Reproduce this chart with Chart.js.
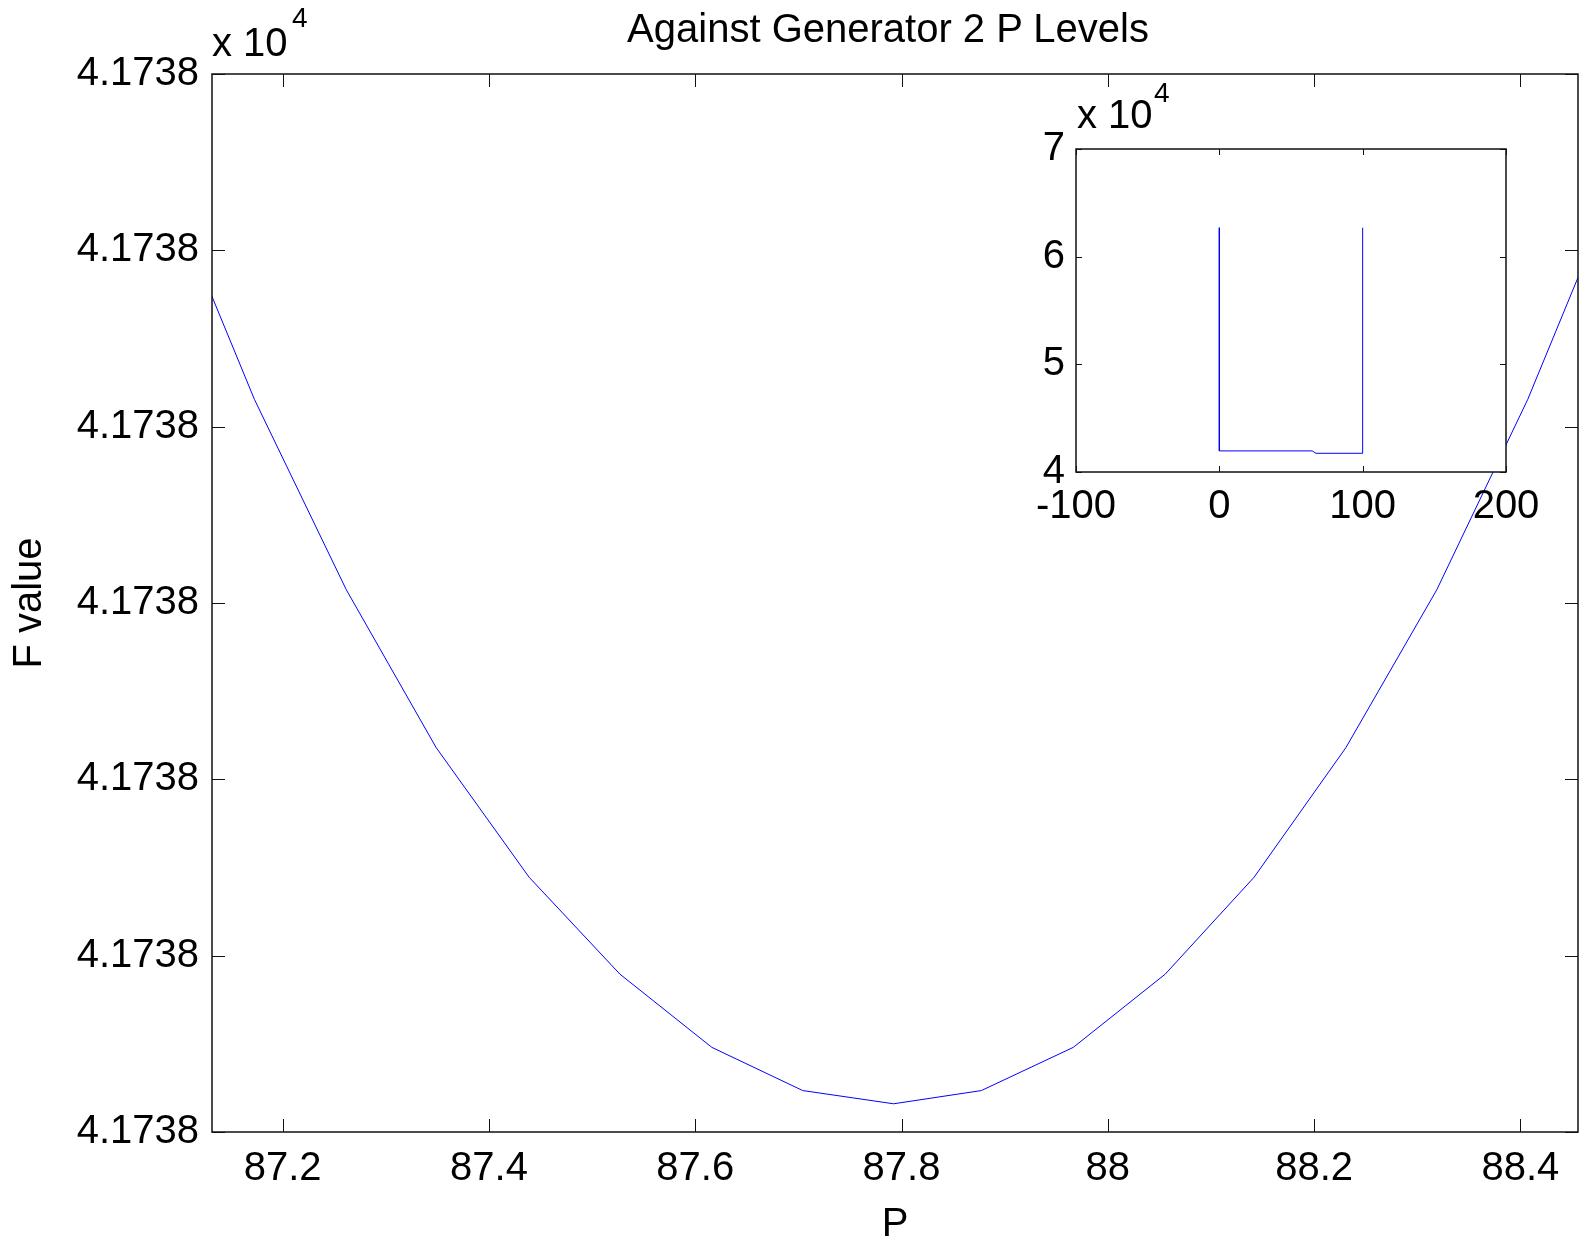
<!DOCTYPE html>
<html>
<head>
<meta charset="utf-8">
<script src="https://cdn.jsdelivr.net/npm/chart.js@4.4.1/dist/chart.umd.min.js"></script>
<style>
  html, body { margin: 0; padding: 0; background: #fff; }
  #wrap { position: relative; width: 1583px; height: 1237px; overflow: hidden; }
  canvas { position: absolute; }
  .txt { position: absolute; font-family: 'Liberation Sans', Arial, sans-serif; color: #000; white-space: nowrap; line-height: 1; }
</style>
</head>
<body>
<div id="wrap">
  <canvas id="main" width="1583" height="1237" style="left:0;top:0"></canvas>
  <canvas id="inset" width="583" height="480" style="left:1000px;top:60px"></canvas>
  <div class="txt" style="left:888px;top:8px;font-size:40px;transform:translateX(-50%)">Against Generator 2 P Levels</div>
  <div class="txt" style="left:212px;top:22px;font-size:40px">x 10</div>
  <div class="txt" style="left:292px;top:4px;font-size:28px">4</div>
  <div class="txt" style="left:1077px;top:94px;font-size:40px">x 10</div>
  <div class="txt" style="left:1154px;top:79px;font-size:28px">4</div>
</div>
<script>
/* ─── Main plot data: F value against generator 2 P ─── */
const pValues = [87.0845, 87.1726, 87.2617, 87.3488, 87.4389, 87.5270, 87.6161, 87.7042,
                 87.7923, 87.8774, 87.9665, 88.0556, 88.1418, 88.2308, 88.3189, 88.4071, 88.4952];
const fValues = [41738.01081, 41738.00831, 41738.00615, 41738.00436, 41738.00289, 41738.00179,
                 41738.00096, 41738.00047, 41738.00032, 41738.00047, 41738.00096, 41738.00179,
                 41738.00289, 41738.00436, 41738.00615, 41738.00831, 41738.01081];
const xTicks = [87.2, 87.4, 87.6, 87.8, 88.0, 88.2, 88.4];
const xLimits = [87.1315, 88.4558];
const yTicks = [41738.000, 41738.002, 41738.004, 41738.006, 41738.008, 41738.010, 41738.012];

/* ─── Inset data: whole P range ─── */
const insetP = [0, 0, 64.8, 67.4, 100, 100];
const insetF = [62690, 41960, 41960, 41738, 41738, 62690];
const insetXTicks = [-100, 0, 100, 200];
const insetYTicks = [40000, 50000, 60000, 70000];

const FONT = { family: "'Liberation Sans', Arial, sans-serif", size: 40, lineHeight: 1 };

/* Matlab-like box with inward ticks on all four sides */
const boxTicks = {
  id: 'boxTicks',
  beforeDraw(chart, args, opts) {
    if (!opts.fill) return;
    const { ctx, chartArea: a } = chart;
    ctx.save();
    ctx.fillStyle = '#fff';
    ctx.fillRect(a.left, a.top, a.right - a.left, a.bottom - a.top);
    ctx.restore();
  },
  afterDraw(chart, args, opts) {
    const { ctx, chartArea: a, scales: { x, y } } = chart;
    const len = opts.len || 10;
    ctx.save();
    ctx.strokeStyle = '#111';
    ctx.lineWidth = opts.width || 1.5;
    ctx.strokeRect(a.left, a.top, a.right - a.left, a.bottom - a.top);
    ctx.beginPath();
    x.ticks.forEach(t => {
      const px = Math.round(x.getPixelForValue(t.value)) + 0.5;
      ctx.moveTo(px, a.bottom); ctx.lineTo(px, a.bottom - len);
      ctx.moveTo(px, a.top);    ctx.lineTo(px, a.top + len);
    });
    y.ticks.forEach(t => {
      const py = Math.round(y.getPixelForValue(t.value)) + 0.5;
      ctx.moveTo(a.left, py);  ctx.lineTo(a.left + len, py);
      ctx.moveTo(a.right, py); ctx.lineTo(a.right - len, py);
    });
    ctx.lineWidth = 1;
    ctx.stroke();
    ctx.restore();
  }
};
Chart.register(boxTicks);

function axis(ticks, lims, cfg) {
  return {
    type: 'linear',
    min: lims[0],
    max: lims[1],
    afterBuildTicks: s => { s.ticks = ticks.map(v => ({ value: v })); },
    grid: { display: false, drawTicks: false },
    border: { display: false },
    ticks: {
      font: FONT, color: '#000', padding: cfg.pad,
      autoSkip: false, maxRotation: 0,
      callback: cfg.fmt,
    },
    title: cfg.title || { display: false },
    afterFit: cfg.fit,
  };
}

/* ─── Main chart ─── */
new Chart(document.getElementById('main'), {
  type: 'line',
  data: {
    datasets: [{
      data: pValues.map((p, i) => ({ x: p, y: fValues[i] })),
      borderColor: '#0000ff',
      borderWidth: 1,
      pointRadius: 0,
      tension: 0,
      fill: false,
    }],
  },
  options: {
    responsive: false,
    animation: false,
    layout: { padding: { top: 74, right: 5, left: 0, bottom: 0 } },
    plugins: { legend: { display: false }, tooltip: { enabled: false }, boxTicks: { len: 13, width: 1.5 } },
    scales: {
      x: axis(xTicks, xLimits, {
        pad: 17,
        fmt: v => String(v),
        title: { display: true, text: 'P', font: { ...FONT, lineHeight: 0.6 }, color: '#000', padding: { top: 0, bottom: 0 } },
        fit: s => { s.height = 105; },
      }),
      y: axis(yTicks, [yTicks[0], yTicks[yTicks.length - 1]], {
        pad: 13,
        fmt: v => (v / 1e4).toFixed(4),
        title: { display: true, text: 'F value', font: FONT, color: '#000', padding: { top: 10, bottom: 0 } },
        fit: s => { s.width = 212; },
      }),
    },
  },
});

/* ─── Inset chart ─── */
new Chart(document.getElementById('inset'), {
  type: 'line',
  data: {
    datasets: [{
      data: insetP.map((p, i) => ({ x: p, y: insetF[i] })),
      borderColor: '#0000ff',
      borderWidth: 1,
      pointRadius: 0,
      tension: 0,
      fill: false,
    }],
  },
  options: {
    responsive: false,
    animation: false,
    layout: { padding: { top: 89, right: 77, left: 0, bottom: 0 } },
    plugins: { legend: { display: false }, tooltip: { enabled: false }, boxTicks: { len: 6, width: 1.5, fill: true } },
    scales: {
      x: axis(insetXTicks, [-100, 200], {
        pad: 15,
        fmt: v => String(v),
        fit: s => { s.height = 68; },
      }),
      y: axis(insetYTicks, [40000, 70000], {
        pad: 11,
        fmt: v => String(v / 1e4),
        fit: s => { s.width = 76; },
      }),
    },
  },
});
</script>
</body>
</html>
